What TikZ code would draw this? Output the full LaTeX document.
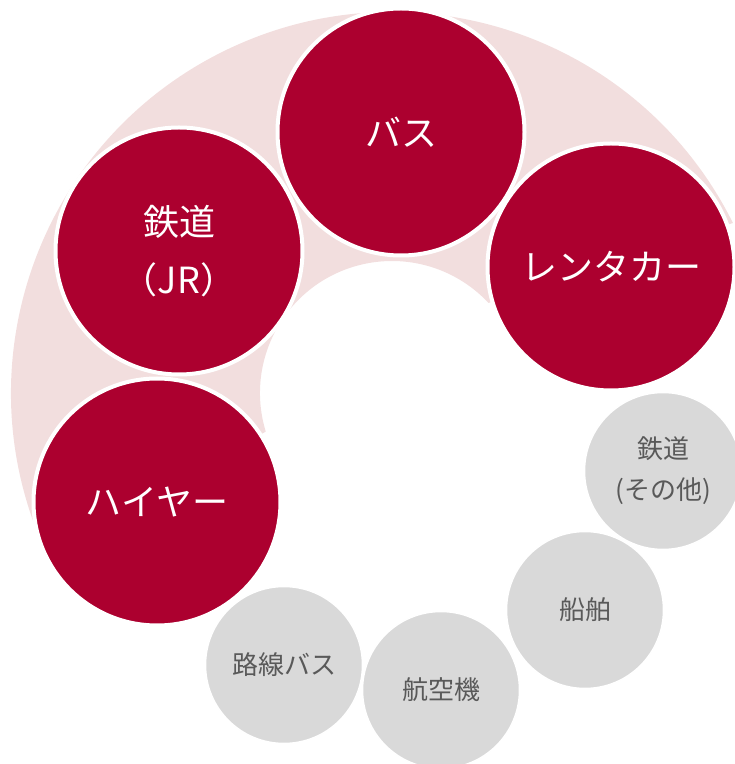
\documentclass[tikz,border=0pt]{standalone}
\usepackage{fontspec}
\newfontfamily\cjk{Noto Sans CJK JP}
\usetikzlibrary{calc}
\definecolor{jred}{RGB}{172,0,47}
\definecolor{jpink}{RGB}{242,222,222}
\definecolor{jgray}{RGB}{217,217,217}
\definecolor{jtext}{RGB}{89,89,89}
\begin{document}
\begin{tikzpicture}[x=1pt,y=1pt,
  major/.style={circle, fill=jred, draw=white, line width=4pt, minimum size=247pt, inner sep=0pt, text=white, font=\cjk\fontsize{36}{58}\selectfont, align=center},
  minor/.style={circle, fill=jgray, draw=white, line width=1.5pt, minimum size=157pt, inner sep=0pt, text=jtext, font=\cjk\fontsize{26}{41}\selectfont, align=center}]
\useasboundingbox (0,0) rectangle (735,764);
\coordinate (c) at (392,371);
\fill[jpink] ($(c)+(26.5:381)$) arc[start angle=26.5, end angle=205.6, radius=381]
  -- ($(c)+(197:132)$) arc[start angle=197, end angle=43, radius=132] -- cycle;
\node[major] (hire) at (157,262) {ハイヤー};
\node[major] (jr) at (179,513) {鉄道\\（JR）};
\node[major] (bus) at (401,632) {バス};
\node[major] (rent) at (611,497) {レンタカー};
\node[minor] (rail) at (663,293) {鉄道\\(その他)};
\node[minor] (ship) at (585,154) {船舶};
\node[minor] (route) at (284,99) {路線バス};
\node[minor] (air) at (441,74) {航空機};
\end{tikzpicture}
\end{document}
